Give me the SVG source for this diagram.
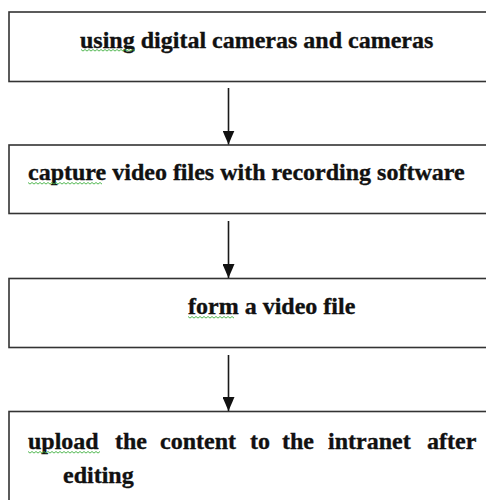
<svg xmlns="http://www.w3.org/2000/svg" width="486" height="500" viewBox="0 0 486 500">
  <defs>
    <style>
      .box { fill: #ffffff; stroke: #333333; stroke-width: 1.6; }
      .lbl { font-family: "Liberation Serif", "Times New Roman", serif; font-weight: bold; font-size: 24px; fill: #111111; stroke: #111111; stroke-width: 0.35; }
      .wire { stroke: #1a1a1a; stroke-width: 1.6; fill: none; }
      .squiggle { stroke: #3cae3c; stroke-width: 0.9; fill: none; }
    </style>
    <marker id="head" markerWidth="14" markerHeight="12" refX="14" refY="6" orient="auto" markerUnits="userSpaceOnUse" viewBox="0 0 14 12">
      <path d="M0,0 L14,6 L0,12 Z" fill="#111111"/>
    </marker>
  </defs>
  <rect width="486" height="500" fill="#ffffff"/>

  <g id="step-capture-devices">
    <rect class="box" x="9" y="12" width="490" height="69.5"/>
    <text class="lbl" x="80" y="47.5">using digital cameras and cameras</text>
    <path class="squiggle" d="M81,49.5 l2,1.6 l2,-1.6 l2,1.6 l2,-1.6 l2,1.6 l2,-1.6 l2,1.6 l2,-1.6 l2,1.6 l2,-1.6 l2,1.6 l2,-1.6 l2,1.6 l2,-1.6 l2,1.6 l2,-1.6 l2,1.6 l2,-1.6 l2,1.6 l2,-1.6 l2,1.6 l2,-1.6 l2,1.6 l2,-1.6 l2,1.6 l2,-1.6 l2,1.6"/>
  </g>

  <g id="step-record">
    <rect class="box" x="9" y="145" width="490" height="68.5"/>
    <text class="lbl" x="28" y="180">capture video files with recording software</text>
    <path class="squiggle" d="M28,182.5 l2,1.6 l2,-1.6 l2,1.6 l2,-1.6 l2,1.6 l2,-1.6 l2,1.6 l2,-1.6 l2,1.6 l2,-1.6 l2,1.6 l2,-1.6 l2,1.6 l2,-1.6 l2,1.6 l2,-1.6 l2,1.6 l2,-1.6 l2,1.6 l2,-1.6 l2,1.6 l2,-1.6 l2,1.6 l2,-1.6 l2,1.6 l2,-1.6 l2,1.6 l2,-1.6 l2,1.6 l2,-1.6 l2,1.6 l2,-1.6 l2,1.6 l2,-1.6 l2,1.6 l2,-1.6 l2,1.6"/>
  </g>

  <g id="step-video-file">
    <rect class="box" x="9" y="278.5" width="490" height="69"/>
    <text class="lbl" x="188" y="314">form a video file</text>
    <path class="squiggle" d="M188,316.5 l2,1.6 l2,-1.6 l2,1.6 l2,-1.6 l2,1.6 l2,-1.6 l2,1.6 l2,-1.6 l2,1.6 l2,-1.6 l2,1.6 l2,-1.6 l2,1.6 l2,-1.6 l2,1.6 l2,-1.6 l2,1.6 l2,-1.6 l2,1.6 l2,-1.6 l2,1.6 l2,-1.6 l2,1.6"/>
  </g>

  <g id="step-upload">
    <rect class="box" x="9" y="411.5" width="490" height="100"/>
    <text class="lbl" y="449">
      <tspan x="28">upload</tspan>
      <tspan x="115">the</tspan>
      <tspan x="160">content</tspan>
      <tspan x="250">to</tspan>
      <tspan x="282">the</tspan>
      <tspan x="328">intranet</tspan>
      <tspan x="427">after</tspan>
    </text>
    <text class="lbl" x="63" y="483">editing</text>
    <path class="squiggle" d="M28,451.5 l2,1.6 l2,-1.6 l2,1.6 l2,-1.6 l2,1.6 l2,-1.6 l2,1.6 l2,-1.6 l2,1.6 l2,-1.6 l2,1.6 l2,-1.6 l2,1.6 l2,-1.6 l2,1.6 l2,-1.6 l2,1.6 l2,-1.6 l2,1.6 l2,-1.6 l2,1.6 l2,-1.6 l2,1.6 l2,-1.6 l2,1.6 l2,-1.6 l2,1.6 l2,-1.6 l2,1.6 l2,-1.6 l2,1.6 l2,-1.6 l2,1.6 l2,-1.6 l2,1.6 l2,-1.6"/>
  </g>

  <g id="connectors">
    <line class="wire" x1="228.5" y1="88" x2="228.5" y2="144.5" marker-end="url(#head)"/>
    <line class="wire" x1="228.5" y1="221" x2="228.5" y2="278" marker-end="url(#head)"/>
    <line class="wire" x1="228.5" y1="355" x2="228.5" y2="411" marker-end="url(#head)"/>
  </g>
</svg>
